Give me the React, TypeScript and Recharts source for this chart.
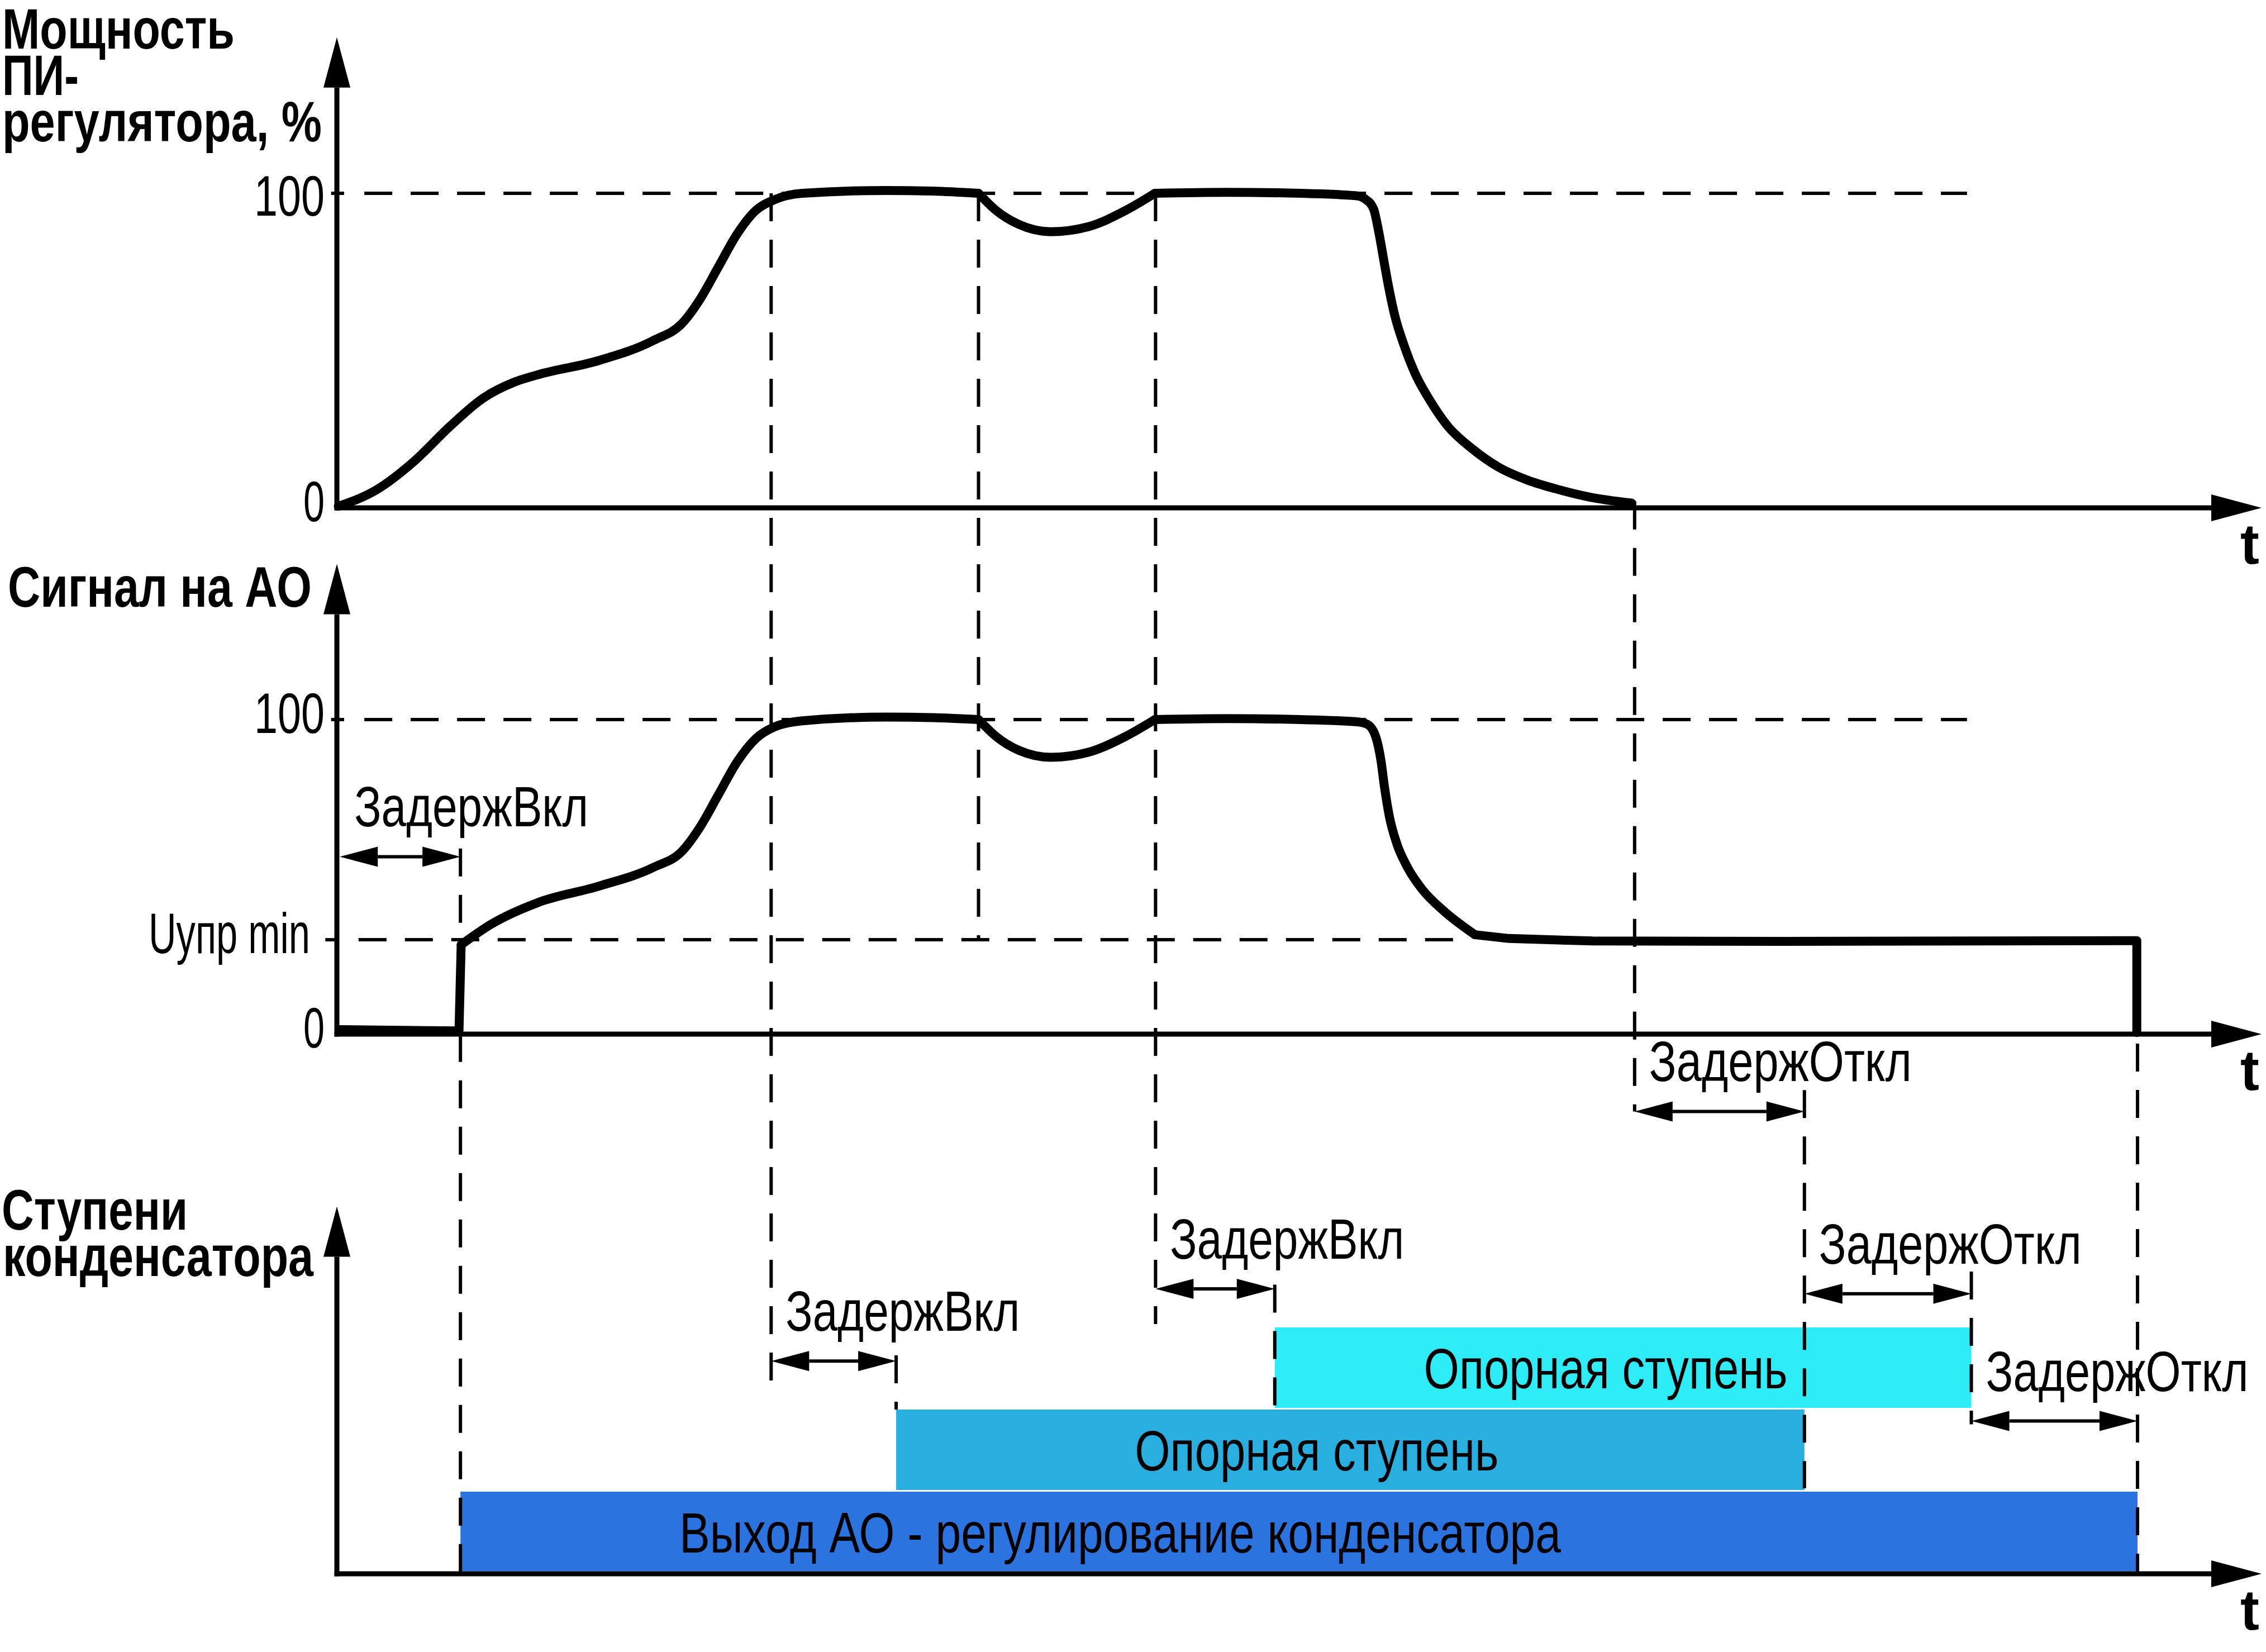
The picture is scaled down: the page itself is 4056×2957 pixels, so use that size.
import React from 'react';
import {
  ComposedChart, Line, XAxis, YAxis, ReferenceLine, ReferenceArea, ReferenceDot, Customized,
} from 'recharts';

const W = 4056;
const H = 2957;
const AXIS_X = 603;        // pixel column of t = 0
const PX_PER_T = 25.867;   // pixels per time unit
const FONT = '"Liberation Sans Narrow", "Liberation Sans", Arial, sans-serif';
const FS = 102;

const T_MIN = -AXIS_X / PX_PER_T;
const T_MAX = (W - AXIS_X) / PX_PER_T;

// three plots stacked in one chart: pixel row of their zero and pixels per unit
const PANELS: Record<string, { zero: number; k: number }> = {
  p1: { zero: 909, k: 5.63 },
  p2: { zero: 1851, k: 5.63 },
  p3: { zero: 2817, k: 147 },
};
const yDomain = (id: string) => {
  const { zero, k } = PANELS[id];
  return [(zero - H) / k, zero / k];
};
// value of one plot expressed on the first plot's axis (guides cross plots)
const toP1 = (id: string, v: number) => {
  const pix = PANELS[id].zero - v * PANELS[id].k;
  return (PANELS.p1.zero - pix) / PANELS.p1.k;
};

// ---- data ----
// Мощность ПИ-регулятора, %   [t, %]
const piRise = [[0.1, 0.5], [2.7, 5.6], [5.3, 14.6], [7.8, 25.8], [10.1, 34.8], [12.3, 40], [13.9, 42.3], [18.1, 46.8], [21.9, 53.2], [23.9, 58.7], [25.1, 66.1], [26.4, 76.6], [27.7, 87.1], [29.0, 94.6], [30.3, 98], [32.2, 100], [38.0, 100.9], [41.2, 100.7], [44.4, 100]];
const piDip = [[44.4, 100], [45.6, 94.6], [47.2, 90.1], [49.4, 87.8], [52.0, 89.4], [54.6, 94.6], [56.6, 100]];
const piFall = [[56.6, 100], [61.6, 100.3], [66.7, 100], [70.6, 99.2], [71.15, 98.2], [71.73, 95.1], [72.1, 87.6], [72.44, 78.8], [72.76, 70.7], [73.2, 61.2], [73.85, 51.6], [74.6, 42.8], [75.66, 34], [76.9, 25.8], [78.5, 19], [80.4, 12.9], [82.4, 8.8], [84.3, 6.1], [86.7, 3.4], [89.6, 1.5]];

// Сигнал на АО
const U_MIN = 30;
const aoIdle = [[0.2, 1.4], [8.45, 1.0], [8.6, 28.4]];
const aoRise = [[8.6, 28.4], [10.7, 35], [13.9, 41.8], [18.1, 47], [21.9, 53], [23.9, 58.2], [25.1, 65.6], [26.4, 76.1], [27.7, 86.6], [29.0, 94], [30.3, 97.7], [32.2, 99.6], [38.0, 100.8], [41.2, 100.6], [44.4, 100]];
const aoDip = [[44.4, 100], [45.6, 94.7], [47.2, 90.2], [49.4, 88], [52.0, 89.6], [54.6, 94.7], [56.6, 100]];
const aoFall = [[56.6, 100], [61.6, 100.3], [66.7, 100], [70.6, 99.3], [71.3, 98.5], [71.86, 94.9], [72.24, 87.2], [72.5, 78.3], [72.82, 69.4], [73.34, 60.6], [74.1, 52.9], [75.14, 45.8], [76.56, 39.3], [78.75, 31.6]];
const aoHold = [[78.75, 31.6], [81.1, 30.4], [86.9, 29.6], [100, 29.5], [124.55, 29.7], [124.55, 0.5]];

// value-axis labels: plot, value, text
const yTicks: [string, number, string][] = [['p1', 0, '0'], ['p1', 100, '100'], ['p2', 0, '0'], ['p2', U_MIN, 'Uупр min'], ['p2', 100, '100']];

// Ступени конденсатора
const stepNames = ['Выход АО - регулирование конденсатора', 'Опорная ступень', 'Опорная ступень'];
const stepOn = [8.55, 38.7, 64.9];
const stepOff = [124.6, 101.55, 113.1];
const stepLabelT = [54.2, 67.8, 87.8];
const STEP_COLORS = ['#2b73de', '#29aee0', '#2eecf6'];

// delays
const delayNames = ['ЗадержВкл', 'ЗадержОткл', 'ЗадержВкл', 'ЗадержВкл', 'ЗадержОткл', 'ЗадержОткл'];
const delayFrom = [0.2, 89.8, 30.05, 56.65, 101.55, 113.1];
const delayTo = [8.55, 101.55, 38.7, 64.9, 113.1, 124.6];
const delayPanel = ['p2', 'p3', 'p3', 'p3', 'p3', 'p3'];
const delayLevel = [56.4, 5.63, 2.59, 3.47, 3.41, 1.86];

// vertical guides: t, top [plot, value], bottom [plot, value]
const guideT = [8.55, 30.05, 38.7, 44.4, 56.65, 64.9, 89.8, 101.55, 113.1, 124.6];
const guideTop: [string, number][] = [['p2', 59], ['p1', 100], ['p3', 2.66], ['p1', 100], ['p1', 100], ['p3', 3.52], ['p1', 2], ['p3', 5.89], ['p3', 3.68], ['p2', -3]];
const guideBottom: [string, number][] = [['p3', -0.17], ['p3', 2.24], ['p3', 2.0], ['p2', U_MIN], ['p3', 3.04], ['p3', 1.95], ['p3', 5.63], ['p3', 1.04], ['p3', 1.82], ['p3', 0]];

// horizontal guides: plot, value, from t, to t
const hGuides: [string, number, number, number][] = [['p1', 100, 1.9, 112.8], ['p2', 100, 1.9, 112.8], ['p2', U_MIN, 1.5, 77.5]];

const pts = (a: number[][]) => a.map(([t, v]) => ({ t, v }));

const TEXT_W: Record<string, number> = {
  'ЗадержВкл': 419, 'ЗадержОткл': 470, 'Опорная ступень': 651,
  'Выход АО - регулирование конденсатора': 1578,
  '100': 126, '0': 38, 'Uупр min': 289,
  'Мощность': 416, 'ПИ-': 137, 'регулятора, %': 572, 'Сигнал на АО': 544,
  'Ступени': 333, 'конденсатора': 556,
};

function Txt({ x, y, children, anchor = 'start', bold = false }: any) {
  const w = TEXT_W[children];
  return (
    <text x={x} y={y} textAnchor={anchor} fontFamily={FONT} fontSize={FS}
      fontWeight={bold ? 700 : 400} fill="#000"
      textLength={w} lengthAdjust={w ? 'spacingAndGlyphs' : undefined}>
      {children}
    </text>
  );
}

const dotText = (text: string, dx: number, dy: number, anchor: string) => (p: any) => {
  const vb = p.viewBox ?? p;
  return <Txt x={vb.x + dx} y={vb.y + dy} anchor={anchor}>{text}</Txt>;
};

const AXIS_ARROW = 90;
const DELAY_ARROW = 68;
const X_AXIS_END = (W - 8 - AXIS_ARROW - AXIS_X) / PX_PER_T;
const Y_AXIS_END: Record<string, number> = { p1: 133.6, p2: 133.5, p3: 3.86 };

function Decor() {
  return (
    <g>
      <defs>
        <marker id="axisArrow" markerUnits="userSpaceOnUse" orient="auto" refX={0} refY={0}
          markerWidth={100} markerHeight={60} overflow="visible">
          <path d={`M0,-24 L${AXIS_ARROW},0 L0,24 Z`} fill="#000" />
        </marker>
        <marker id="delayArrow" markerUnits="userSpaceOnUse" orient="auto-start-reverse" refX={0} refY={0}
          markerWidth={80} markerHeight={40} overflow="visible">
          <path d={`M0,-18 L${DELAY_ARROW},0 L0,18 Z`} fill="#000" />
        </marker>
      </defs>
      <Txt x={4} y={87} bold>Мощность</Txt>
      <Txt x={4} y={170} bold>ПИ-</Txt>
      <Txt x={4} y={253} bold>регулятора, %</Txt>
      <Txt x={14} y={1086} bold>Сигнал на АО</Txt>
      <Txt x={3} y={2201} bold>Ступени</Txt>
      <Txt x={5} y={2284} bold>конденсатора</Txt>
      {['p1', 'p2', 'p3'].map((id) => (
        <text key={id} x={4027} y={PANELS[id].zero + 100} textAnchor="middle" fontFamily={FONT}
          fontSize={FS} fontWeight={700}>t</text>
      ))}
    </g>
  );
}

const dashed = { stroke: '#000', strokeWidth: 6, strokeDasharray: '50 33', ifOverflow: 'visible' as const };
const curve = { stroke: '#000', strokeWidth: 16, dot: false, activeDot: false, isAnimationActive: false, strokeLinecap: 'round' as const, strokeLinejoin: 'round' as const };

export default function App() {
  const arrowT = DELAY_ARROW / PX_PER_T;
  return (
    <div style={{ position: 'absolute', left: 0, top: 0, width: W, height: H, background: '#fff' }}>
      <ComposedChart width={W} height={H} margin={{ top: 0, right: 0, bottom: 0, left: 0 }}>
        <XAxis dataKey="t" type="number" domain={[T_MIN, T_MAX]} hide allowDataOverflow />
        <YAxis yAxisId="p1" type="number" domain={yDomain('p1')} allowDataOverflow hide />
        <YAxis yAxisId="p2" type="number" domain={yDomain('p2')} allowDataOverflow hide />
        <YAxis yAxisId="p3" type="number" domain={yDomain('p3')} allowDataOverflow hide />

        <Customized component={Decor} />

        {stepNames.map((n, i) => (
          <ReferenceArea key={'bar' + i} yAxisId="p3" x1={stepOn[i]} x2={stepOff[i]} y1={i + (i === 0 ? 0.03 : 0.02)} y2={i + 1}
            fill={STEP_COLORS[i]} fillOpacity={1} stroke="none" ifOverflow="visible" />
        ))}

        {guideT.map((t, i) => (
          <ReferenceLine key={'g' + i} yAxisId="p1" {...dashed}
            segment={[{ x: t, y: toP1(...guideTop[i]) }, { x: t, y: toP1(...guideBottom[i]) }]} />
        ))}
        {hGuides.map(([id, v, a, b], i) => (
          <ReferenceLine key={'h' + i} yAxisId={id} {...dashed} segment={[{ x: a, y: v }, { x: b, y: v }]} />
        ))}
        {hGuides.map(([id, v], i) => (
          <ReferenceLine key={'tk' + i} yAxisId={id} stroke="#000" strokeWidth={6} ifOverflow="visible"
            segment={[{ x: v === U_MIN ? -0.8 : -0.4, y: v }, { x: v === U_MIN ? 0 : 0.5, y: v }]} />
        ))}

        {['p1', 'p2', 'p3'].map((id) => (
          <ReferenceLine key={'ax' + id} yAxisId={id} stroke="#000" strokeWidth={9} ifOverflow="visible"
            markerEnd="url(#axisArrow)" segment={[{ x: -0.17, y: 0 }, { x: X_AXIS_END, y: 0 }]} />
        ))}
        {['p1', 'p2', 'p3'].map((id) => (
          <ReferenceLine key={'ay' + id} yAxisId={id} stroke="#000" strokeWidth={9} ifOverflow="visible"
            markerEnd="url(#axisArrow)"
            segment={[{ x: 0, y: -4.5 / PANELS[id].k }, { x: 0, y: Y_AXIS_END[id] }]} />
        ))}

        {delayNames.map((n, i) => (
          <ReferenceLine key={'d' + i} yAxisId={delayPanel[i]} stroke="#000" strokeWidth={6} ifOverflow="visible"
            markerStart="url(#delayArrow)" markerEnd="url(#delayArrow)"
            segment={[{ x: delayFrom[i] + arrowT, y: delayLevel[i] }, { x: delayTo[i] - arrowT, y: delayLevel[i] }]} />
        ))}

        <Line yAxisId="p1" data={pts(piRise)} dataKey="v" type="monotone" {...curve} />
        <Line yAxisId="p1" data={pts(piDip)} dataKey="v" type="monotone" {...curve} />
        <Line yAxisId="p1" data={pts(piFall)} dataKey="v" type="monotone" {...curve} />
        <Line yAxisId="p2" data={pts(aoIdle)} dataKey="v" type="linear" {...curve} />
        <Line yAxisId="p2" data={pts(aoRise)} dataKey="v" type="monotone" {...curve} />
        <Line yAxisId="p2" data={pts(aoDip)} dataKey="v" type="monotone" {...curve} />
        <Line yAxisId="p2" data={pts(aoFall)} dataKey="v" type="monotone" {...curve} />
        <Line yAxisId="p2" data={pts(aoHold)} dataKey="v" type="linear" {...curve} />

        {yTicks.map(([id, v, s], i) => (
          <ReferenceDot key={'yt' + i} yAxisId={id} x={0} y={v} r={0} fill="none" stroke="none" ifOverflow="visible"
            label={dotText(s, v === U_MIN ? -48 : -22, id === 'p1' && v === 100 ? 40 : 24, 'end')} />
        ))}
        {delayNames.map((n, i) => (
          <ReferenceDot key={'dl' + i} yAxisId={delayPanel[i]} x={delayFrom[i]} y={delayLevel[i]} r={0}
            fill="none" stroke="none" ifOverflow="visible" label={dotText(n, 26, -54, 'start')} />
        ))}
        {stepNames.map((n, i) => (
          <ReferenceDot key={'sl' + i} yAxisId="p3" x={stepLabelT[i]} y={i + 0.5} r={0}
            fill="none" stroke="none" ifOverflow="visible" label={dotText(n, 0, 35, 'middle')} />
        ))}
      </ComposedChart>
    </div>
  );
}
